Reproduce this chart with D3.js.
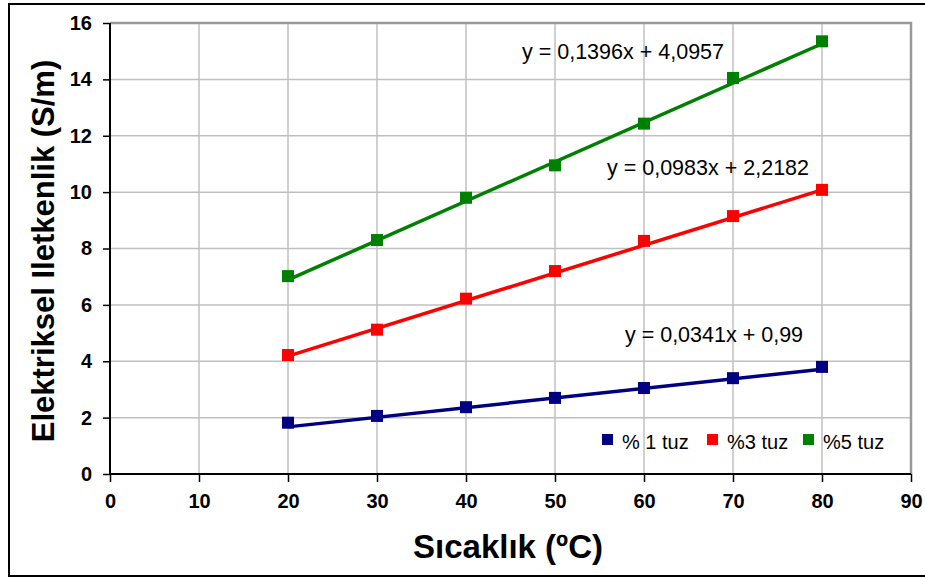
<!DOCTYPE html>
<html>
<head>
<meta charset="utf-8">
<script src="https://cdn.jsdelivr.net/npm/d3@7"></script>
<style>
  body { margin: 0; background: #fff; }
  svg { display: block; }
</style>
</head>
<body>
<div id="chart"></div>
<script>
// data
const temps = [20, 30, 40, 50, 60, 70, 80];
const tuz1 = [1.82, 2.06, 2.37, 2.70, 3.05, 3.40, 3.80];
const tuz3 = [4.22, 5.12, 6.22, 7.20, 8.27, 9.15, 10.08];
const tuz5 = [7.02, 8.30, 9.80, 10.95, 12.43, 14.05, 15.35];
const seriesNames = ["% 1 tuz", "%3 tuz", "%5 tuz"];
const slopes = [0.0341, 0.0983, 0.1396];
const intercepts = [0.99, 2.2182, 4.0957];
const equations = ["y = 0,0341x + 0,99", "y = 0,0983x + 2,2182", "y = 0,1396x + 4,0957"];
const xTicks = [0, 10, 20, 30, 40, 50, 60, 70, 80, 90];
const yTicks = [0, 2, 4, 6, 8, 10, 12, 14, 16];

const colors = ["#000080", "#ff0000", "#008000"];
const allSeries = [tuz1, tuz3, tuz5];

const width = 925, height = 577;
const margin = { left: 110, right: 14, top: 23, bottom: 103 };
const font = "'Liberation Sans', Arial, sans-serif";

const svg = d3.select("#chart")
  .append("svg")
  .attr("width", width)
  .attr("height", height)
  .style("font-family", font);

// outer frame
svg.append("rect")
  .attr("x", 9).attr("y", 4)
  .attr("width", width + 10).attr("height", 572)
  .attr("fill", "none")
  .attr("stroke", "#000")
  .attr("stroke-width", 2);

const x = d3.scaleLinear()
  .domain([0, 90])
  .range([margin.left, width - margin.right]);

const y = d3.scaleLinear()
  .domain([0, 16])
  .range([height - margin.bottom, margin.top]);

// grid
svg.append("g")
  .selectAll("line")
  .data(yTicks.slice(1))
  .join("line")
  .attr("x1", x(0)).attr("x2", x(90))
  .attr("y1", d => y(d)).attr("y2", d => y(d))
  .attr("stroke", "#c0c0c0").attr("stroke-width", 1.5);

svg.append("g")
  .selectAll("line")
  .data(xTicks.slice(1))
  .join("line")
  .attr("x1", d => x(d)).attr("x2", d => x(d))
  .attr("y1", y(0)).attr("y2", y(16))
  .attr("stroke", "#c0c0c0").attr("stroke-width", 1.5);

// plot area border (top / right in gray)
svg.append("path")
  .attr("d", `M${x(0)},${y(16)}H${x(90)}V${y(0)}`)
  .attr("fill", "none")
  .attr("stroke", "#999")
  .attr("stroke-width", 2.5);

// axes
const xAxis = d3.axisBottom(x).tickValues(xTicks).tickSize(8).tickPadding(12);
const yAxis = d3.axisLeft(y).tickValues(yTicks).tickSize(7).tickPadding(11);

const gx = svg.append("g")
  .attr("transform", `translate(0, ${y(0)})`)
  .call(xAxis);

const gy = svg.append("g")
  .attr("transform", `translate(${x(0)}, 0)`)
  .call(yAxis);

[gx, gy].forEach(g => {
  g.select(".domain").attr("stroke", "#000").attr("stroke-width", 2);
  g.selectAll(".tick line").attr("stroke", "#000").attr("stroke-width", 1.5);
  g.selectAll(".tick text")
    .attr("fill", "#000")
    .style("font-size", "20px")
    .style("font-weight", "bold")
    .style("font-family", font);
});
gx.select(".domain").attr("d", `M${x(0)},0H${x(90)}`);
gy.select(".domain").attr("d", `M0,${y(0)}V${y(16)}`);

// trend lines
allSeries.forEach((vals, i) => {
  const x0 = temps[0], x1 = temps[temps.length - 1];
  svg.append("line")
    .attr("x1", x(x0)).attr("y1", y(slopes[i] * x0 + intercepts[i]))
    .attr("x2", x(x1)).attr("y2", y(slopes[i] * x1 + intercepts[i]))
    .attr("stroke", colors[i])
    .attr("stroke-width", 3.5);
});

// markers
allSeries.forEach((vals, i) => {
  svg.append("g")
    .selectAll("rect")
    .data(vals)
    .join("rect")
    .attr("x", (d, j) => x(temps[j]) - 6)
    .attr("y", d => y(d) - 6)
    .attr("width", 12).attr("height", 12)
    .attr("fill", colors[i]);
});

// equation labels
const eqPos = [[714, 342], [708, 175], [623, 59]];
equations.forEach((t, i) => {
  svg.append("text")
    .attr("x", eqPos[i][0])
    .attr("y", eqPos[i][1])
    .attr("text-anchor", "middle")
    .style("font-size", "21.5px")
    .attr("fill", "#000")
    .text(t);
});

// legend
const legendX = [602, 707, 803];
seriesNames.forEach((n, i) => {
  svg.append("rect")
    .attr("x", legendX[i]).attr("y", 434)
    .attr("width", 11).attr("height", 11)
    .attr("fill", colors[i]);
  svg.append("text")
    .attr("x", legendX[i] + 20).attr("y", 449)
    .style("font-size", "20px")
    .attr("fill", "#000")
    .text(n);
});

// axis titles
svg.append("text")
  .attr("x", 508)
  .attr("y", 558)
  .attr("text-anchor", "middle")
  .style("font-size", "33px")
  .style("font-weight", "bold")
  .text("Sıcaklık (ºC)");

svg.append("text")
  .attr("transform", "rotate(-90)")
  .attr("x", -251)
  .attr("y", 54)
  .attr("text-anchor", "middle")
  .style("font-size", "31px")
  .style("font-weight", "bold")
  .text("Elektriksel Iletkenlik (S/m)");
</script>
</body>
</html>
